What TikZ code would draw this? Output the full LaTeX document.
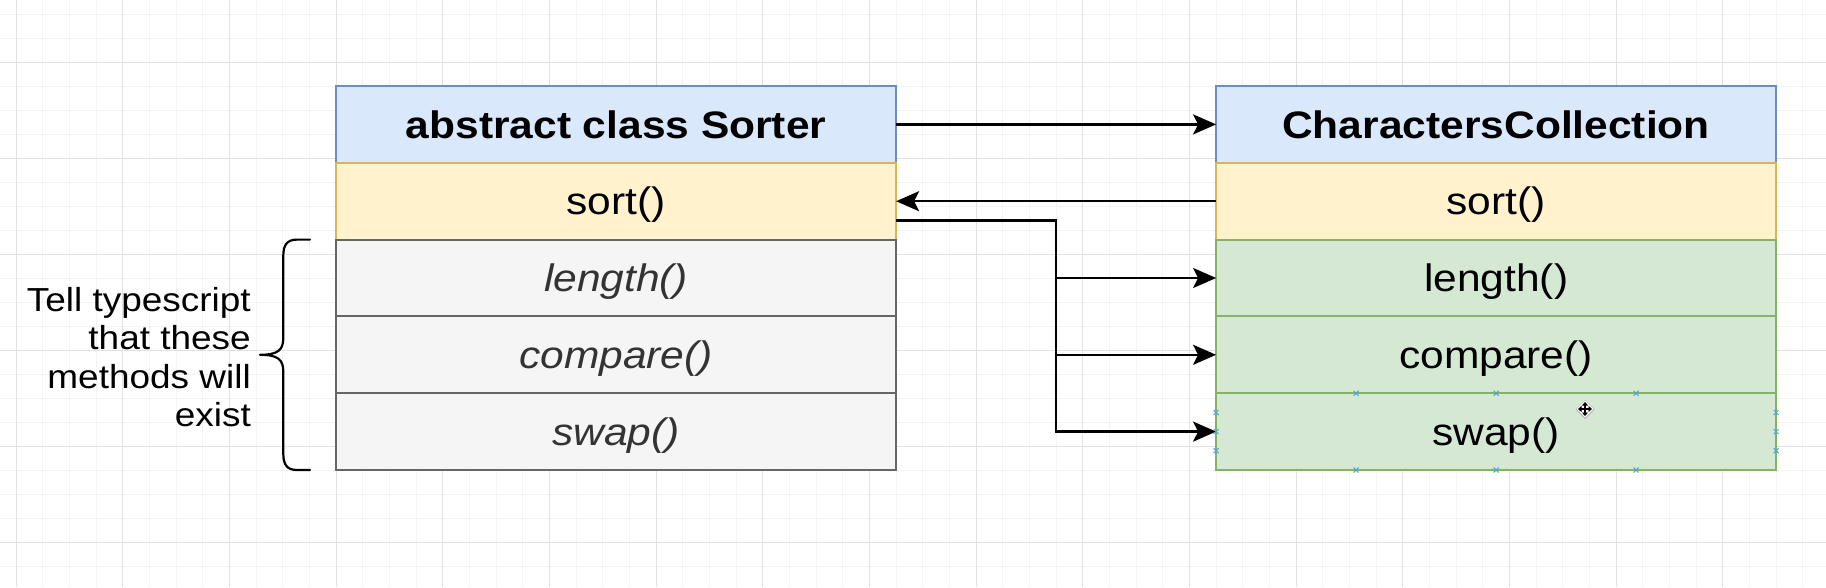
\documentclass[tikz,border=0pt]{standalone}
\usepackage{fontspec}
\setmainfont{Liberation Sans}[FakeStretch=1.11]
\usetikzlibrary{arrows.meta,calc}
\definecolor{hdrfill}{HTML}{DAE8FC}\definecolor{hdrline}{HTML}{6C8EBF}
\definecolor{yelfill}{HTML}{FFF2CC}\definecolor{yelline}{HTML}{D6B656}
\definecolor{grayfill}{HTML}{F5F5F5}\definecolor{grayline}{HTML}{666666}
\definecolor{grnfill}{HTML}{D5E8D4}\definecolor{grnline}{HTML}{82B366}
\definecolor{gridminor}{HTML}{F3F3F3}\definecolor{gridmajor}{HTML}{E2E2E2}
\definecolor{handle}{HTML}{4FA3DB}
\definecolor{txtgray}{HTML}{333333}
\begin{document}
\begin{tikzpicture}[x=1pt,y=-1pt,
  row/.style={rectangle, anchor=north west, minimum width=560pt, minimum height=76.8pt,
    inner sep=0pt, outer sep=0pt, line width=1.9pt, text height=27.2pt, text depth=0pt,
    font=\fontsize{38.3}{45}\selectfont},
  hdr/.style={row, fill=hdrfill, draw=hdrline, font=\fontsize{38.3}{45}\selectfont\bfseries},
  yel/.style={row, fill=yelfill, draw=yelline},
  abs/.style={row, fill=grayfill, draw=grayline, text=txtgray, font=\fontsize{38.3}{45}\selectfont\itshape},
  grn/.style={row, fill=grnfill, draw=grnline},
  conn/.style={line width=2.3pt, draw=black, -{Stealth[length=23pt,width=20pt,inset=5pt]}},
  brace/.style={line width=2.2pt, draw=black, line cap=round, line join=round},
  note/.style={align=right, inner sep=0pt, font=\fontsize{33.3}{38.3}\selectfont},
  hmark/.style={draw=handle, line width=1pt}
]
\useasboundingbox (0,0) rectangle (1826,587);
\fill[white] (0,0) rectangle (1826,587);
% grid
\foreach \i in {0,...,68} { \draw[gridminor, line width=1pt] ({16.1+26.667*\i},0) -- ({16.1+26.667*\i},587); }
\foreach \j in {0,...,24} { \draw[gridminor, line width=1pt] (0,{14.3+24*\j}) -- (1826,{14.3+24*\j}); }
\foreach \i in {0,...,17} { \draw[gridmajor, line width=1pt] ({16.1+106.667*\i},0) -- ({16.1+106.667*\i},587); }
\foreach \j in {0,...,5} { \draw[gridmajor, line width=1pt] (0,{62.3+96*\j}) -- (1826,{62.3+96*\j}); }

% left class
\node[hdr] (lh) at (336.1,86) {abstract class Sorter};
\node[yel] (ls) at (336.1,162.8) {sort()};
\node[abs] (ll) at (336.1,239.6) {length()};
\node[abs] (lc) at (336.1,316.4) {compare()};
\node[abs] (lw) at (336.1,393.2) {swap()};

% right class
\node[hdr] (rh) at (1216.1,86) {CharactersCollection};
\node[yel] (rs) at (1216.1,162.8) {sort()};
\node[grn] (rl) at (1216.1,239.6) {length()};
\node[grn] (rc) at (1216.1,316.4) {compare()};
\node[grn] (rw) at (1216.1,393.2) {swap()};

% connectors
\coordinate (jx) at (1056.1,0);
\coordinate (ls3) at ($(ls.east)!0.5!(ls.south east)$);
\draw[conn] (lh.east) -- (rh.west);
\draw[conn] (rs.west) -- (ls.east);
\draw[conn] (ls3) -- (ls3 -| jx) |- (rl.west);
\draw[conn] (ls3 -| jx) |- (rc.west);
\draw[conn] (ls3 -| jx) |- (rw.west);

% brace and note
\draw[brace] (310,239.6) -- (297,239.6) .. controls (287,239.6) and (283.3,245) .. (283.3,256)
  -- (283.3,338) .. controls (283.3,350) and (278,354.8) .. (260,354.8)
  .. controls (278,354.8) and (283.3,359.6) .. (283.3,371.6)
  -- (283.3,453.6) .. controls (283.3,464.6) and (287,470) .. (297,470) -- (310,470);
\node[note, anchor=east] (note) at (251,357) {Tell typescript\\that these\\methods will\\exist};

% selection handles on swap()
\foreach \px/\py in {1356.1/393.2, 1496.1/393.2, 1636.1/393.2, 1356.1/470, 1496.1/470, 1636.1/470,
  1216.1/412.4, 1216.1/431.6, 1216.1/450.8, 1776.1/412.4, 1776.1/431.6, 1776.1/450.8} {
  \draw[hmark] (\px-2.5,\py-2.5) -- (\px+2.5,\py+2.5) (\px-2.5,\py+2.5) -- (\px+2.5,\py-2.5);
}
% move cursor
\fill[black!30] (1585,400) -- (1594.5,409.5) -- (1585,419) -- (1575.5,409.5) -- cycle;
\fill[white] (1585,400.5) -- (1593.5,409) -- (1585,417.5) -- (1576.5,409) -- cycle;
\draw[line width=1.6pt, {Triangle[length=3.5pt,width=6pt]}-{Triangle[length=3.5pt,width=6pt]}] (1578,409) -- (1592,409);
\draw[line width=1.6pt, {Triangle[length=3.5pt,width=6pt]}-{Triangle[length=3.5pt,width=6pt]}] (1585,402) -- (1585,416);
\end{tikzpicture}
\end{document}
